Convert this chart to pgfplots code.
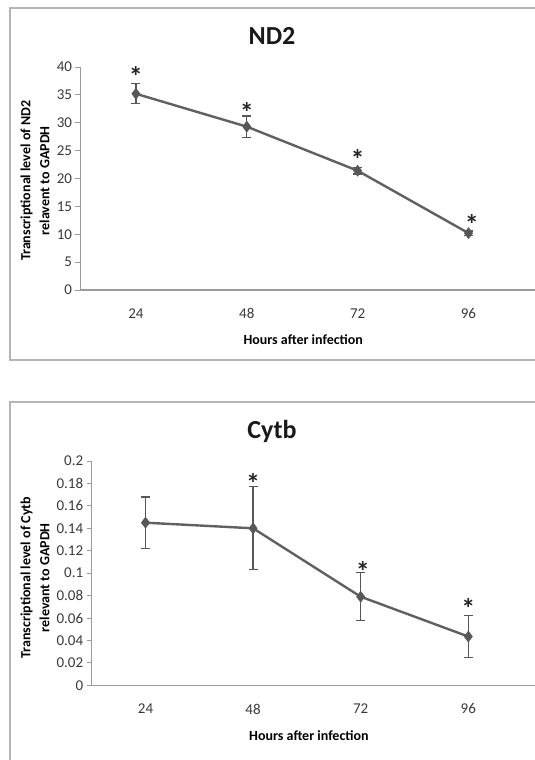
\documentclass[border=0pt]{standalone}
\usepackage{pgfplots}
\pgfplotsset{compat=1.18}
\usepackage{pgfplotstable}
\usepackage{fontspec}
\setmainfont{Carlito}
\definecolor{linegray}{HTML}{606060}
\definecolor{markgray}{HTML}{575757}
\definecolor{axisgray}{HTML}{9A9A9A}
\definecolor{boxgray}{HTML}{B5B5B5}
\definecolor{txtgray}{HTML}{3A3A3A}

\pgfplotstableread{
x y err
0.5 35.2 1.8
1.5 29.3 1.9
2.5 21.4 0.6
3.5 10.2 0.4
}\ndtwo
\pgfplotstableread{
x y
0.5 39.4
1.5 32.9
2.5 24.4
3.53 12.9
}\ndtwostars
\pgfplotstableread{
x y err
0.5 0.145 0.023
1.5 0.140 0.037
2.5 0.079 0.0215
3.5 0.0435 0.019
}\cytb
\pgfplotstableread{
x y
1.5 0.185
2.52 0.107
3.5 0.074
}\cytbstars

\pgfplotsset{
  panel/.style={
    scale only axis,
    anchor=south west,
    xmin=0,
    xtick={0.5,1.5,2.5,3.5},
    xticklabels={24,48,72,96},
    axis x line=bottom,
    axis y line=left,
    axis line style={-, draw=axisgray, line width=1.3pt},
    x tick style={draw=none},
    y tick style={draw=axisgray, line width=1pt},
    tick align=outside,
    major tick length=5pt,
    /pgf/number format/assume math mode=true,
    ticklabel style={font=\fontsize{15}{18}\selectfont, text=txtgray},
    xticklabel shift=10pt,
    label style={font=\fontsize{14}{19}\selectfont\bfseries, text=black},
    xlabel={Hours after infection},
    xlabel style={at={(axis description cs:0.49,0)}, anchor=center, yshift=-50pt},
    ylabel style={align=center, anchor=center},
    clip=false,
  },
  series/.style={
    color=linegray, line width=2.4pt,
    mark=diamond*, mark size=5.5pt,
    mark options={fill=markgray, draw=markgray, line width=0.5pt},
    error bars/.cd, y dir=both, y explicit,
    error bar style={draw=markgray, line width=1.3pt},
    error mark options={rotate=90, mark size=4.5pt, line width=1.3pt, draw=markgray},
  },
  stars/.style={
    draw=none, mark=none,
    nodes near coords={*},
    every node near coord/.style={anchor=center, font=\fontsize{28}{28}\selectfont\bfseries, text=black!85, yshift=-6pt},
  },
}

\begin{document}
\begin{tikzpicture}[x=1pt,y=1pt]
\useasboundingbox (0,0) rectangle (535,-760);
\draw[boxgray, line width=1.5pt] (10,-8) rectangle (560,-360);
\draw[boxgray, line width=1.5pt] (10,-790) -- (10,-402) -- (560,-402);
\node[font=\fontsize{26}{30}\selectfont\bfseries, text=black!90] at (272,-36) {ND2};
\node[font=\fontsize{26}{30}\selectfont\bfseries, text=black!90] at (272,-431) {Cytb};

\begin{axis}[panel,
  at={(80.5pt,-290pt)},
  width=454.5pt, height=223pt,
  xmax=4.1, ymin=0, ymax=40,
  ytick={0,5,...,40},
  ylabel={Transcriptional level of ND2\\relavent to GAPDH},
  ylabel style={at={(axis description cs:-0.10,0.49)}},
]
\addplot[series] table[x=x, y=y, y error=err] {\ndtwo};
\addplot[stars] table[x=x, y=y] {\ndtwostars};
\end{axis}

\begin{axis}[panel,
  at={(91.7pt,-685.3pt)},
  width=443.3pt, height=224.3pt,
  xmax=4.12, ymin=0, ymax=0.2,
  ytick={0,0.02,...,0.2},
  yticklabel style={/pgf/number format/.cd, fixed, precision=2},
  ylabel={Transcriptional level of Cytb\\relevant to GAPDH},
  ylabel style={at={(axis description cs:-0.128,0.48)}},
]
\addplot[series] table[x=x, y=y, y error=err] {\cytb};
\addplot[stars] table[x=x, y=y] {\cytbstars};
\end{axis}
\end{tikzpicture}
\end{document}
